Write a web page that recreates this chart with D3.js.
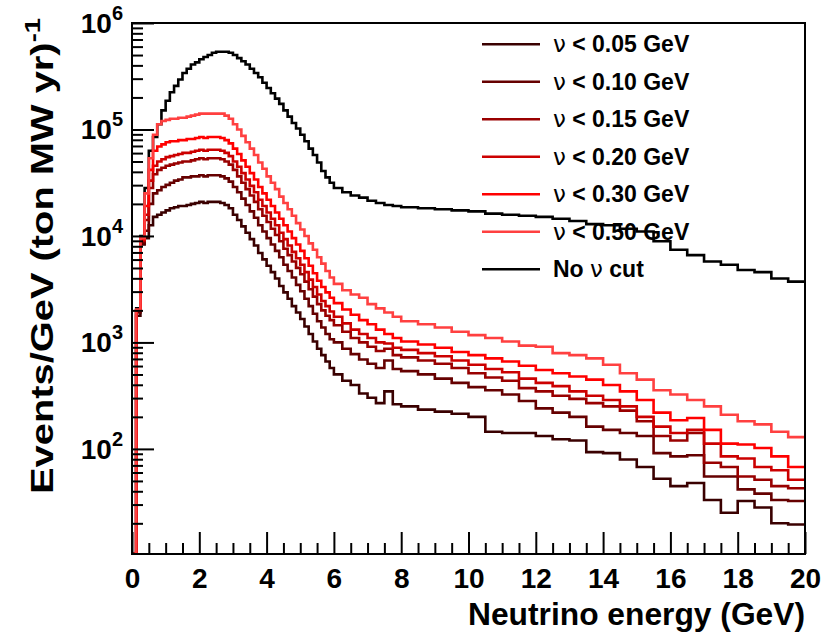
<!DOCTYPE html>
<html><head><meta charset="utf-8">
<script src="https://cdn.jsdelivr.net/npm/d3@7"></script>
<style>
body{margin:0;background:#fff}
svg{display:block}
text{font-family:"Liberation Sans",Arial,Helvetica,sans-serif;font-weight:bold;fill:#000}
</style>
</head><body>
<svg id="c" width="821" height="638"></svg>
<script>
// ---- DATA ----
const binEdges = [0,0.125,0.25,0.375,0.5,0.625,0.75,0.875,1,1.125,1.25,1.375,1.5,1.625,1.75,1.875,
  2,2.125,2.25,2.375,2.5,2.625,2.75,2.875,3,3.125,3.25,3.375,3.5,3.625,3.75,3.875,
  4,4.125,4.25,4.375,4.5,4.625,4.75,4.875,5,5.125,5.25,5.375,5.5,5.625,5.75,5.875,
  6,6.25,6.5,6.75,7,7.25,7.5,7.75,
  8,8.5,9,9.5,10,10.5,11,11.5,12,12.5,13,13.5,14,14.5,15,15.5,16,16.5,17,17.5,18,18.5,19,19.5,20];

const nuCut005 = [0,1780,8320,9550,12600,15100,15800,16600,17400,18200,18600,19100,19100,19500,20000,20400,
  20900,20400,20900,20900,20900,20400,19500,18200,15800,14100,12300,10700,9330,8130,6920,6030,
  5250,4570,3980,3390,2950,2570,2190,1910,1660,1410,1200,1020,871,759,661,575,
  501,437,398,331,302,269,347,263,
  251,234,224,214,200,145,141,141,132,123,120,93.3,91.2,79.4,67.6,52.5,44.7,47.9,33.1,25.1,32.4,28.2,20.0,19.5];

const nuCut010 = [0,1910,8510,11200,20000,25100,26900,28800,30200,31600,33100,33900,35500,35500,36300,36300,
  37200,36300,37200,37200,37200,36300,34700,32400,28800,25700,22400,19500,17000,14800,12600,11000,
  9550,8320,7240,6310,5370,4680,4070,3470,3020,2570,2190,1860,1580,1380,1200,1070,
  1000,871,776,692,631,575,676,562,
  537,501,457,417,380,355,324,282,240,219,200,162,151,141,132,91.2,85.1,87.1,55.0,55.0,41.7,38.0,33.1,32.4];

const nuCut015 = [0,2000,8910,14100,28200,38000,41700,43700,45700,46800,47900,49000,50100,50100,51300,52500,
  53700,52500,53700,53700,53700,52500,50100,46800,41700,36300,31600,27500,24000,20900,17800,15500,
  13500,11700,10200,8910,7590,6610,5750,5010,4370,3720,3160,2690,2290,2000,1780,1620,
  1450,1260,1100,1000,912,832,871,759,
  724,676,631,575,513,468,437,372,347,316,295,269,251,229,182,132,120,141,74.1,67.6,55.0,51.3,44.7,42.7];

const nuCut020 = [0,2000,9120,15800,33100,45700,50100,52500,55000,56200,57500,58900,60300,60300,61700,63100,
  64600,63100,64600,64600,64600,63100,60300,56200,50100,44700,38900,33900,29500,25700,21900,19100,
  16600,14500,12600,10700,9330,8130,7080,6170,5370,4570,3890,3310,2820,2450,2190,1950,
  1740,1510,1320,1200,1100,1000,977,891,
  851,794,741,676,617,562,525,457,417,389,347,316,288,251,200,162,141,151,112,85.1,81.3,67.6,63.1,51.3];

const nuCut030 = [0,2000,9330,19100,41700,63100,69200,72400,75900,77600,77600,79400,79400,81300,81300,83200,
  85100,83200,85100,85100,85100,83200,79400,74100,66100,58900,51300,44700,38900,33900,28800,25100,
  21900,19100,16600,14500,12600,11000,9550,8320,7240,6170,5250,4470,3800,3310,2950,2630,
  2340,2040,1820,1620,1480,1320,1200,1100,
  1020,955,891,813,759,708,661,603,550,513,479,447,398,347,288,219,186,195,151,112,110,102,85.1,67.6];

const nuCut050 = [0,2040,9550,25100,53700,89100,112000,120000,123000,126000,126000,129000,129000,132000,135000,138000,
  141000,141000,141000,141000,141000,141000,135000,126000,112000,100000,87100,75900,66100,57500,49000,42700,
  36300,31600,27500,23400,20400,17800,15500,13200,11500,10000,8510,7410,6310,5500,4680,4070,
  3550,3090,2820,2630,2290,2090,1910,1740,
  1580,1480,1380,1260,1170,1100,1020,933,912,794,759,708,617,513,447,355,324,288,251,209,182,170,145,129];

const noCut = [0,2090,10000,28200,63100,85100,112000,151000,186000,224000,257000,295000,339000,372000,407000,427000,
  457000,479000,501000,525000,537000,537000,537000,525000,501000,468000,437000,407000,372000,339000,309000,275000,
  245000,219000,195000,174000,151000,132000,115000,102000,89100,77600,66100,57500,49000,40700,35500,31600,
  28200,25700,24000,22900,21400,20400,19500,19100,
  18600,18200,17800,17400,17000,16200,15800,15500,15100,14500,13800,12900,12600,11700,11000,8910,7410,6610,5750,5370,4790,4570,3980,3720];

const legendLabels = [
  {pre:"", post:" < 0.05 GeV"},
  {pre:"", post:" < 0.10 GeV"},
  {pre:"", post:" < 0.15 GeV"},
  {pre:"", post:" < 0.20 GeV"},
  {pre:"", post:" < 0.30 GeV"},
  {pre:"", post:" < 0.50 GeV"},
  {pre:"No ", post:" cut"}
];
const xMajorTicks = [0,2,4,6,8,10,12,14,16,18,20];
const yMajorExp = [2,3,4,5,6];
const xTitle = "Neutrino energy (GeV)";
const yTitle = "Events/GeV (ton MW yr)";
const yTitleSup = "-1";

// ---- STYLE ----
const seriesColors = ["#3a0000","#660000","#990000","#cc0000","#ff0000","#ff4040","#000000"];

// ---- DRAW ----
const svg = d3.select("#c");
const L=132, R=805, T=23, B=554;
const yMin = 10.3;
const x = d3.scaleLinear().domain([0,20]).range([L,R]);
const y = d3.scaleLog().domain([yMin,1e6]).range([B,T]).clamp(true);

svg.append("defs").append("clipPath").attr("id","clip")
  .append("rect").attr("x",L).attr("y",T).attr("width",R-L).attr("height",B-T);

const series = [nuCut005,nuCut010,nuCut015,nuCut020,nuCut030,nuCut050,noCut];

function histPoints(vals){
  const pts=[];
  vals.forEach((v,i)=>{
    const vv = v>0 ? v : yMin;
    pts.push([binEdges[i],vv]);
    pts.push([binEdges[i+1],vv]);
  });
  return pts;
}
const line = d3.line().x(d=>x(d[0])).y(d=>y(d[1]));

const g = svg.append("g").attr("clip-path","url(#clip)");
const order=[6,0,1,2,3,4,5];
order.forEach(k=>{
  g.append("path").attr("d",line(histPoints(series[k])))
    .attr("fill","none").attr("stroke",seriesColors[k]).attr("stroke-width",2.6)
    .attr("stroke-linejoin","miter").attr("stroke-linecap","butt");
});

// axes ticks
const xMinor = d3.range(0,20.001,0.5).filter(v=>Math.abs(v/2-Math.round(v/2))>1e-6);
const ax = svg.append("g").attr("transform",`translate(0,${B})`);
ax.call(d3.axisBottom(x).tickValues(xMajorTicks).tickSize(-22).tickPadding(14).tickFormat(d3.format("d")));
ax.append("g").call(d3.axisBottom(x).tickValues(xMinor).tickSize(-11).tickFormat(""));
ax.selectAll(".domain").remove();
ax.selectAll("line").attr("stroke","#000").attr("stroke-width",2);
ax.selectAll("text").attr("font-size",28).attr("font-family",'"Liberation Sans",Arial,sans-serif').attr("font-weight","bold").attr("fill","#000");

const yMajor = yMajorExp.map(e=>Math.pow(10,e));
const yMinor=[];
[1,2,3,4,5].forEach(e=>{ for(let m=2;m<=9;m++){ const v=m*Math.pow(10,e); if(v>=yMin && v<=1e6) yMinor.push(v);} });
const ay = svg.append("g").attr("transform",`translate(${L},0)`);
ay.call(d3.axisLeft(y).tickValues(yMajor).tickSize(-22).tickFormat(""));
ay.append("g").call(d3.axisLeft(y).tickValues(yMinor).tickSize(-11).tickFormat(""));
ay.selectAll(".domain").remove();
ay.selectAll("line").attr("stroke","#000").attr("stroke-width",2);

yMajorExp.forEach(e=>{
  const t = svg.append("text").attr("x",123).attr("y",y(Math.pow(10,e))+10)
    .attr("text-anchor","end").attr("font-size",28);
  t.append("tspan").text("10");
  t.append("tspan").attr("font-size",20).attr("dy",-13).text(String(e));
});

svg.append("rect").attr("x",L).attr("y",T).attr("width",R-L).attr("height",B-T)
  .attr("fill","none").attr("stroke","#000").attr("stroke-width",2);

svg.append("text").attr("x",R).attr("y",625).attr("text-anchor","end").attr("font-size",31)
  .attr("textLength",337).attr("lengthAdjust","spacingAndGlyphs").text(xTitle);
const yt = svg.append("text").attr("transform","translate(53,18) rotate(-90)")
  .attr("text-anchor","end").attr("font-size",32)
  .attr("textLength",476).attr("lengthAdjust","spacingAndGlyphs");
yt.append("tspan").text(yTitle);
yt.append("tspan").attr("font-size",22).attr("dy",-13).text(yTitleSup);

const lg = svg.append("g");
legendLabels.forEach((d,i)=>{
  const yy = 44.3 + i*37.5;
  lg.append("line").attr("x1",482).attr("x2",540).attr("y1",yy).attr("y2",yy)
    .attr("stroke",seriesColors[i]).attr("stroke-width",2.6);
  const t = lg.append("text").attr("x",553).attr("y",yy+8).attr("font-size",23);
  if(d.pre) t.append("tspan").text(d.pre);
  t.append("tspan").attr("font-weight","normal").attr("font-family",'"DejaVu Sans",sans-serif').text("ν");
  t.append("tspan").text(d.post);
});
</script>
</body></html>
